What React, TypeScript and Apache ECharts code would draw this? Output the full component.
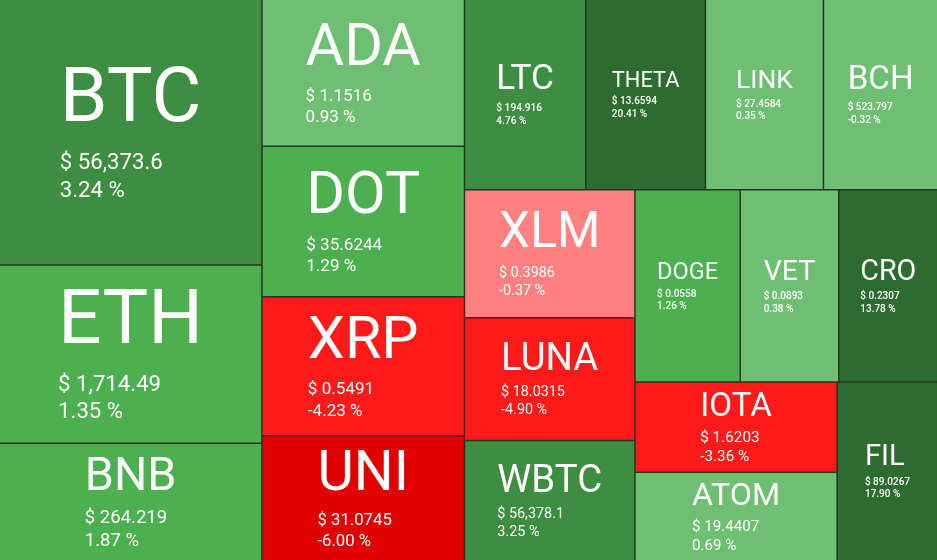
import React, { useEffect, useRef } from "react";
import * as echarts from "echarts";

// ---- data ----
const coins = ["BTC", "ETH", "BNB", "ADA", "DOT", "XRP", "UNI", "LTC", "THETA", "LINK", "BCH", "XLM", "LUNA", "WBTC", "DOGE", "VET", "CRO", "IOTA", "ATOM", "FIL"];
const weights = [69430, 46557, 30733, 29633, 30300, 27997, 25189, 22990, 22667, 22363, 21660, 21709, 20791, 20400, 20129, 18844, 18921, 18153, 17810, 17883];
const prices = [56373.6, 1714.49, 264.219, 1.1516, 35.6244, 0.5491, 31.0745, 194.916, 13.6594, 27.4584, 523.797, 0.3986, 18.0315, 56378.1, 0.0558, 0.0893, 0.2307, 1.6203, 19.4407, 89.0267];
const changes = [3.24, 1.35, 1.87, 0.93, 1.29, -4.23, -6.0, 4.76, 20.41, 0.35, -0.32, -0.37, -4.9, 3.25, 1.26, 0.38, 13.78, -3.36, 0.69, 17.9];

const FONT = "Roboto";
const BORDER = "#243524";

function colorFor(c: number): string {
  if (c >= 10) return "#2e6b31";
  if (c >= 2) return "#3d8e40";
  if (c >= 1) return "#4caf50";
  if (c >= -0.35) return "#6fbf73";
  if (c >= -1) return "#ff8080";
  if (c >= -5) return "#ff1a1a";
  return "#e00000";
}

function fmtPrice(v: number): string {
  let s = v >= 100 ? v.toPrecision(6) : v.toFixed(4);
  const parts = s.split(".");
  parts[0] = parts[0].replace(/\B(?=(\d{3})+(?!\d))/g, ",");
  return parts.join(".");
}
function fmtChange(c: number): string {
  return c.toFixed(2) + " %";
}

let measureCtx: CanvasRenderingContext2D | null = null;
function measure(text: string, size: number, weight: number | string): number {
  if (!measureCtx) measureCtx = document.createElement("canvas").getContext("2d");
  if (!measureCtx) return text.length * size * 0.6;
  measureCtx.font = `${weight} ${size}px ${FONT}`;
  return measureCtx.measureText(text).width;
}

function labelFor(i: number, lay: { width: number; height: number }) {
  const w = lay.width;
  const h = lay.height;
  const len = coins[i].length;
  let fn = w / (len + 0.4);
  let fp = Math.max(10, w * 0.085);
  const maxV = 0.77 * h;
  let v = 1.03 * fn + 2.23 * fp;
  if (v > maxV) {
    const s = maxV / v;
    fp = Math.max(9, fp * Math.sqrt(s));
    fn = (maxV - 2.23 * fp) / 1.03;
    v = maxV;
  }
  const pw = fp < 13 ? 500 : 400;
  const blockW = Math.max(
    measure(coins[i], fn, 400),
    measure("$ " + fmtPrice(prices[i]), fp, pw),
    measure(fmtChange(changes[i]), fp, pw)
  );
  const padL = Math.max(0, (w - blockW) / 2);
  const padT = Math.max(0, (h - v) / 2 - 0.145 * fn);
  return {
    show: true,
    padding: [padT, 0, 0, padL],
    rich: {
      n: { fontSize: fn, lineHeight: 1.175 * fn, verticalAlign: "top", align: "left", color: "#fff", fontFamily: FONT },
      p: { fontSize: fp, lineHeight: 1.25 * fp, align: "left", color: "#fff", fontFamily: FONT, fontWeight: pw },
    },
  };
}

function buildOption(layouts: Record<string, any> | null) {
  const data = coins.map((name, i) => {
    const item: any = {
      name,
      value: weights[i],
      itemStyle: { color: colorFor(changes[i]) },
    };
    if (layouts && layouts[name]) item.label = labelFor(i, layouts[name]);
    return item;
  });
  return {
    animation: false,
    series: [
      {
        type: "treemap",
        name: "market",
        left: 0,
        top: 0,
        width: "100%",
        height: "100%",
        roam: false,
        nodeClick: false,
        sort: false,
        breadcrumb: { show: false },
        itemStyle: { borderWidth: 0, gapWidth: 1.5, borderColor: BORDER },
        upperLabel: { show: false },
        label: {
          show: !!layouts,
          color: "#fff",
          fontFamily: FONT,
          formatter: (p: any) => {
            const i = coins.indexOf(p.name);
            if (i < 0) return "";
            return `{n|${coins[i]}}\n{p|$ ${fmtPrice(prices[i])}}\n{p|${fmtChange(changes[i])}}`;
          },
        },
        emphasis: { disabled: true },
        data,
      },
    ],
  };
}

export default function App() {
  const ref = useRef<HTMLDivElement>(null);
  useEffect(() => {
    if (!ref.current) return;
    const chart = echarts.init(ref.current, null, { renderer: "svg" });
    chart.setOption(buildOption(null) as any);
    let layouts: Record<string, any> | null = null;
    try {
      const series = (chart as any).getModel().getSeriesByIndex(0);
      const sd = series.getData();
      layouts = {};
      for (let k = 0; k < sd.count(); k++) {
        const nm = sd.getName(k);
        const lay = sd.getItemLayout(k);
        if (lay && coins.indexOf(nm) >= 0) layouts[nm] = lay;
      }
    } catch (e) {
      layouts = null;
    }
    chart.setOption(buildOption(layouts || {}) as any, true);
    return () => chart.dispose();
  }, []);
  return (
    <div
      ref={ref}
      style={{ position: "fixed", left: 0, top: 0, width: 937, height: 560 }}
    />
  );
}
